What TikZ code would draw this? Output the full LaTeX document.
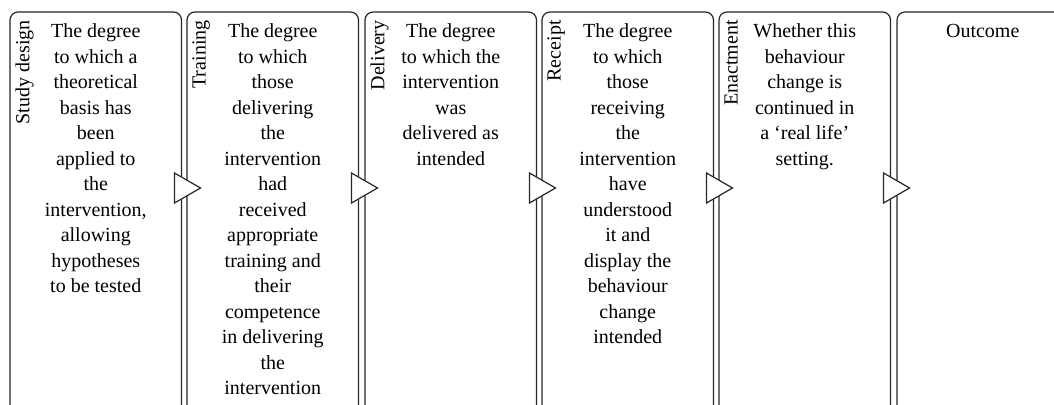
\documentclass[tikz,border=0pt]{standalone}
\usepackage{fontspec}
\setmainfont{Liberation Serif}
\usetikzlibrary{positioning}

\tikzset{
  panel/.style={draw=black!85, line width=0.6pt, rounded corners=4pt,
    minimum width=85.75pt, minimum height=210pt, anchor=north west,
    inner sep=0pt, outer sep=0pt},
  stage/.style={rotate=90, anchor=north east, inner sep=0pt,
    font={\fontsize{10}{12.75}\selectfont}},
  blurb/.style={anchor=north, align=center, inner sep=0pt,
    font={\fontsize{10}{12.75}\selectfont}},
  flowtip/.style={draw=black!85, line width=0.6pt, fill=white, line join=miter}
}

\begin{document}
\begin{tikzpicture}[x=1pt,y=1pt]
  \useasboundingbox (0,0) rectangle (527,202);
  \clip (0,0) rectangle (527,202);
  % panels, open at the bottom
  \node[panel] (design) at(5,196){};
  \node[panel] (training) at(93.5,196){};
  \node[panel] (delivery) at(182.5,196){};
  \node[panel] (receipt) at(271,196){};
  \node[panel] (enactment) at(359.5,196){};
  \node[panel] (outcome) at(448.5,196){};
  % arrow heads between panels
  \draw[flowtip] ([shift={(-3.5,-80.5)}]design.north east) -- ++(0,-15) -- ++(13,7.5) -- cycle;
  \draw[flowtip] ([shift={(-3.5,-80.5)}]training.north east) -- ++(0,-15) -- ++(13,7.5) -- cycle;
  \draw[flowtip] ([shift={(-3.5,-80.5)}]delivery.north east) -- ++(0,-15) -- ++(13,7.5) -- cycle;
  \draw[flowtip] ([shift={(-3.5,-80.5)}]receipt.north east) -- ++(0,-15) -- ++(13,7.5) -- cycle;
  \draw[flowtip] ([shift={(-3.5,-80.5)}]enactment.north east) -- ++(0,-15) -- ++(13,7.5) -- cycle;
  % side labels
  \node[stage] (designlbl) at([shift={(2.5,-4)}]design.north west){Study design};
  \node[stage] (traininglbl) at([shift={(2.5,-4)}]training.north west){Training};
  \node[stage] (deliverylbl) at([shift={(2.5,-4)}]delivery.north west){Delivery};
  \node[stage] (receiptlbl) at([shift={(2.5,-4)}]receipt.north west){Receipt};
  \node[stage] (enactmentlbl) at([shift={(2.5,-4)}]enactment.north west){Enactment};
  % descriptions
  \node[blurb] (designtxt) at([yshift=-5.7pt]design.north){The degree\\to which a\\theoretical\\basis has\\been\\applied to\\the\\intervention,\\allowing\\hypotheses\\to be tested};
  \node[blurb] (trainingtxt) at([yshift=-5.7pt]training.north){The degree\\to which\\those\\delivering\\the\\intervention\\had\\received\\appropriate\\training and\\their\\competence\\in delivering\\the\\intervention};
  \node[blurb] (deliverytxt) at([yshift=-5.7pt]delivery.north){The degree\\to which the\\intervention\\was\\delivered as\\intended};
  \node[blurb] (receipttxt) at([yshift=-5.7pt]receipt.north){The degree\\to which\\those\\receiving\\the\\intervention\\have\\understood\\it and\\display the\\behaviour\\change\\intended};
  \node[blurb] (enactmenttxt) at([yshift=-5.7pt]enactment.north){Whether this\\behaviour\\change is\\continued in\\a ‘real life’\\setting.};
  \node[blurb] (outcometxt) at([yshift=-5.7pt]outcome.north){Outcome};
\end{tikzpicture}
\end{document}
